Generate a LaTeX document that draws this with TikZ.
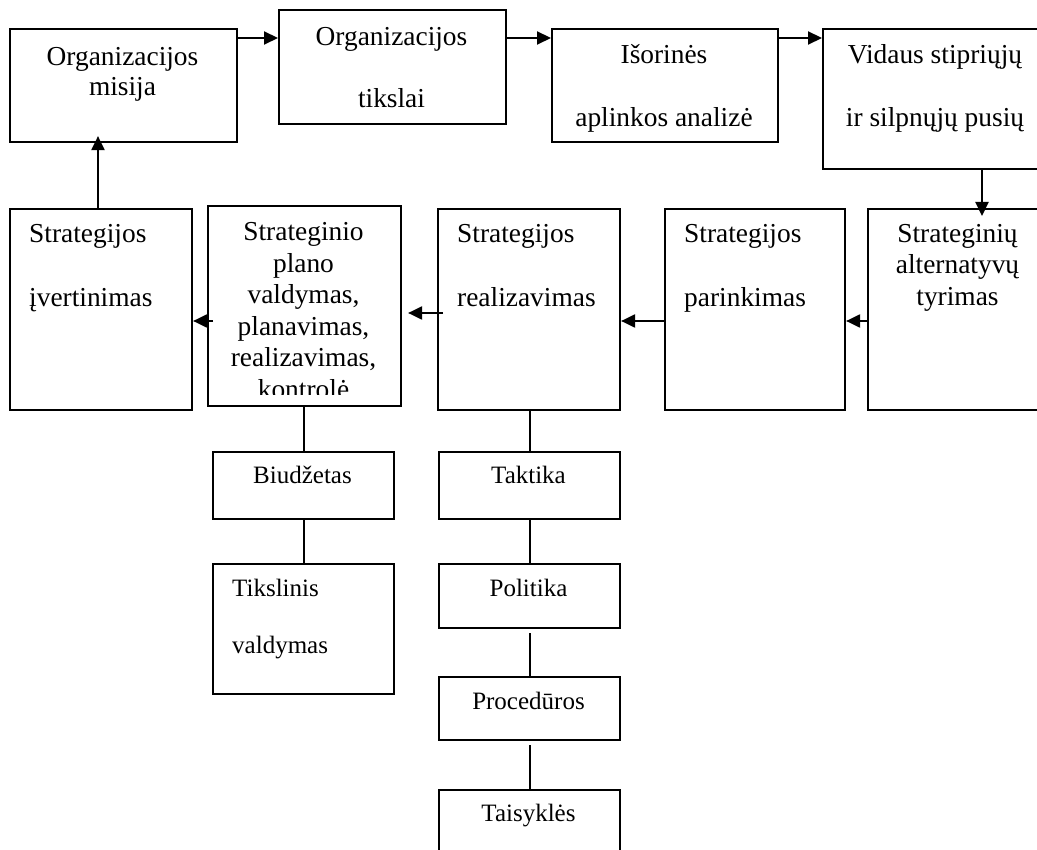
\documentclass[tikz,border=0pt]{standalone}
\usepackage{fontspec}
\setmainfont{Liberation Serif}
\usetikzlibrary{arrows.meta}
\begin{document}
\begin{tikzpicture}[x=1pt,y=-1pt,
  box/.style={draw, line width=2.1pt, inner sep=0pt, anchor=north west},
  big/.style={font=\fontsize{27.4}{31.5}\selectfont, inner sep=0pt},
  small/.style={font=\fontsize{25}{28.5}\selectfont, inner sep=0pt},
  arr/.style={line width=2.1pt, -{Triangle[length=14pt,width=13pt]}},
  link/.style={line width=2.1pt}]
\clip (0,0) rectangle (1037,850);
\fill[white] (0,0) rectangle (1037,850);

% upper row
\node[box, minimum width=227pt, minimum height=113pt] (b1) at (9,28) {};
\node[box, minimum width=227pt, minimum height=114pt] (b2) at (278,9) {};
\node[box, minimum width=226pt, minimum height=113pt] (b3) at (551,28) {};
\node[box, minimum width=226pt, minimum height=140pt] (b4) at (822,28) {};

% middle row
\node[box, minimum width=181pt, minimum height=201pt] (b5) at (867,208) {};
\node[box, minimum width=180pt, minimum height=201pt] (b6) at (664,208) {};
\node[box, minimum width=182pt, minimum height=201pt] (b7) at (437,208) {};
\node[box, minimum width=193pt, minimum height=200pt] (b8) at (207,205) {};
\node[box, minimum width=182pt, minimum height=201pt] (b9) at (9,208) {};

% lower branches
\node[box, minimum width=181pt, minimum height=67pt] (biud) at (212,451) {};
\node[box, minimum width=181pt, minimum height=130pt] (tiks) at (212,563) {};
\node[box, minimum width=181pt, minimum height=67pt] (takt) at (438,451) {};
\node[box, minimum width=181pt, minimum height=64pt] (poli) at (438,563) {};
\node[box, minimum width=181pt, minimum height=63pt] (proc) at (438,676) {};
\node[box, minimum width=181pt, minimum height=80pt] (tais) at (438,789) {};

% connector levels
\coordinate (rowA) at (0,38);
\coordinate (rowB) at (0,321);
\coordinate (rowC) at (0,313);
\coordinate (colA) at (982,0);
\coordinate (colB) at (98,0);

\draw[arr] (b1.east |- rowA) -- (b2.west |- rowA);
\draw[arr] (b2.east |- rowA) -- (b3.west |- rowA);
\draw[arr] (b3.east |- rowA) -- (b4.west |- rowA);
\draw[arr, shorten >=-8pt] (colA |- b4.south) -- (colA |- b5.north);
\draw[arr] (b5.west |- rowB) -- (b6.east |- rowB);
\draw[arr] (b6.west |- rowB) -- (b7.east |- rowB);
\draw[arr, shorten <=-6pt, shorten >=6pt] (b7.west |- rowC) -- (b8.east |- rowC);
\draw[arr, shorten <=-6pt] (b8.west |- rowB) -- (b9.east |- rowB);
\draw[arr, shorten >=-7pt] (colB |- b9.north) -- (colB |- b1.south);

\draw[link] (biud.north) -- (biud.north |- b8.south);
\draw[link] (tiks.north) -- (tiks.north |- biud.south);
\draw[link] (takt.north) -- (takt.north |- b7.south);
\draw[link] (poli.north) -- (poli.north |- takt.south);
\draw[link, shorten <=4pt] (poli.south) -- (proc.north);
\draw[link, shorten <=4pt] (proc.south) -- (tais.north);

% labels
\node[big, anchor=base] (t1a) at (122.5,66) {Organizacijos};
\node[big, anchor=base] (t1b) at (122.5,96) {misija};
\node[big, anchor=base] (t2a) at (391.5,46) {Organizacijos};
\node[big, anchor=base] (t2b) at (391.5,108) {tikslai};
\node[big, anchor=base] (t3a) at (664,63.5) {Išorinės};
\node[big, anchor=base] (t3b) at (664,126.5) {aplinkos analizė};
\node[big, anchor=base] (t4a) at (935,63.5) {Vidaus stipriųjų};
\node[big, anchor=base] (t4b) at (935,126.5) {ir silpnųjų pusių};

\node[big, anchor=base] (t5a) at (957.5,242.5) {Strateginių};
\node[big, anchor=base] (t5b) at (957.5,274) {alternatyvų};
\node[big, anchor=base] (t5c) at (957.5,305.5) {tyrimas};
\node[big, anchor=base west] (t6a) at (684,242.5) {Strategijos};
\node[big, anchor=base west] (t6b) at (684,306.5) {parinkimas};
\node[big, anchor=base west] (t7a) at (457,242.5) {Strategijos};
\node[big, anchor=base west] (t7b) at (457,306.5) {realizavimas};
\node[big, anchor=base west] (t9a) at (29,242.5) {Strategijos};
\node[big, anchor=base west] (t9b) at (29,306.5) {įvertinimas};

\begin{scope}
  \clip (b8.north west) rectangle (400,395);
  \node[big, anchor=base] (t8a) at (303.5,241) {Strateginio};
  \node[big, anchor=base] (t8b) at (303.5,272.5) {plano};
  \node[big, anchor=base] (t8c) at (303.5,304) {valdymas,};
  \node[big, anchor=base] (t8d) at (303.5,335.5) {planavimas,};
  \node[big, anchor=base] (t8e) at (303.5,367) {realizavimas,};
  \node[big, anchor=base] (t8f) at (303.5,398.5) {kontrolė};
\end{scope}

\node[small, anchor=base] (tbiud) at (302.5,483.3) {Biudžetas};
\node[small, anchor=base west] (ttiksa) at (232,596) {Tikslinis};
\node[small, anchor=base west] (ttiksb) at (232,653) {valdymas};
\node[small, anchor=base] (ttakt) at (528.5,483.3) {Taktika};
\node[small, anchor=base] (tpoli) at (528.5,596.7) {Politika};
\node[small, anchor=base] (tproc) at (528.5,709.3) {Procedūros};
\node[small, anchor=base] (ttais) at (528.5,821.7) {Taisyklės};
\end{tikzpicture}
\end{document}
